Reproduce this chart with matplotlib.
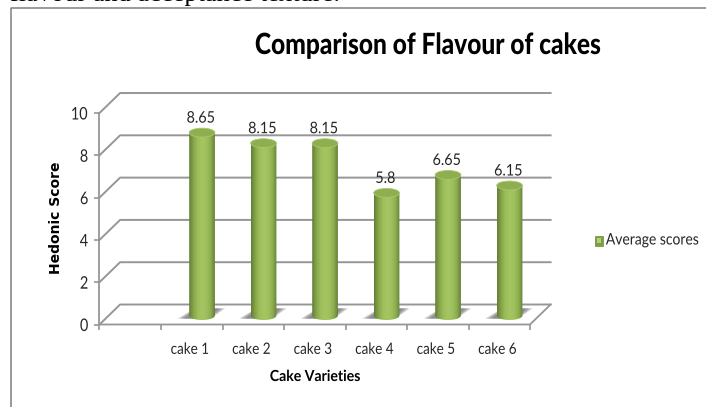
import numpy as np
import matplotlib
matplotlib.use('Agg')
import matplotlib.pyplot as plt
from matplotlib.colors import LinearSegmentedColormap
from matplotlib.patches import Ellipse, PathPatch, Polygon, Rectangle
from matplotlib.path import Path
from matplotlib.patheffects import AbstractPathEffect
from matplotlib.transforms import Affine2D

# data
cakes = ['cake 1', 'cake 2', 'cake 3', 'cake 4', 'cake 5', 'cake 6']
scores = [8.65, 8.15, 8.15, 5.8, 6.65, 6.15]
score_labels = ['8.65', '8.15', '8.15', '5.8', '6.65', '6.15']
y_ticks = [0, 2, 4, 6, 8, 10]

W, H = 706, 407
GREY = '#969696'
INK = '#262626'
DX, DY = 0.335, 0.945  # depth of the fake 3d box, in data units


class Squeeze(AbstractPathEffect):
    # narrow a text around its own centre, the reference font is condensed
    def __init__(self, sx):
        super().__init__()
        self.sx = sx

    def draw_path(self, renderer, gc, tpath, affine, rgbFace=None):
        box = tpath.get_extents()
        cx = (box.x0 + box.x1) / 2
        narrow = Affine2D().translate(-cx, 0).scale(self.sx, 1).translate(cx, 0)
        renderer.draw_path(gc, tpath, narrow + affine, rgbFace)


plt.rcParams['font.family'] = ['Lato', 'DejaVu Sans']

fig = plt.figure(figsize=(W / 100, H / 100), dpi=100)
fig.patch.set_facecolor('white')

# page furniture, in pixels
page = fig.add_axes([0, 0, 1, 1])
page.set_xlim(0, W)
page.set_ylim(H, 0)
page.axis('off')
page.plot([10.5, 10.5, W], [H, 7.5, 7.5], color='#7f7f7f', lw=1.1)
page.text(10, 1.5, 'flavour and acceptance texture.', family='Liberation Serif',
          fontsize=19, color='black', va='baseline', ha='left')

# axes box is the front face of the chart
left, right, top, bottom = 99.5, 530, 113, 324.5
ax = fig.add_axes([left / W, 1 - bottom / H, (right - left) / W, (bottom - top) / H])
ax.patch.set_alpha(0)
for s in ax.spines.values():
    s.set_visible(False)

# grid on the back wall + floor edges
for v in y_ticks:
    ax.plot([0, DX, 7 + DX], [v, v + DY, v + DY], color=GREY, lw=1.4, clip_on=False, zorder=1)
ax.plot([0, 0], [0, 10], color=GREY, lw=1.3, clip_on=False, zorder=2)
ax.plot([0, 7, 7 + DX], [0, 0, DY], color=GREY, lw=1.3, clip_on=False, zorder=2)

green = LinearSegmentedColormap.from_list(
    'cyl', ['#627f36', '#86a64a', '#9dbe5b', '#a4c562', '#a0c05e', '#8fb050', '#64823a'])
grad = np.linspace(0, 1, 64).reshape(1, -1)

bar_w = 0.418
cap_h = 0.21
xs = np.arange(len(cakes)) + 1.5 + DX / 2
base = DY / 2 - 0.05

for x, val, lab in zip(xs, scores, score_labels):
    x0, x1 = x - bar_w / 2, x + bar_w / 2
    body_top = base + val
    # soft shadow on the floor
    for k in np.linspace(1, 0.7, 6):
        ax.add_patch(Polygon([[x - 0.4 * k, 0.28], [x + 0.14 * k, 0.28],
                              [x + 0.38 * k, 0.76], [x - 0.12 * k, 0.76]], closed=True,
                             fc='#6e6e6e', ec='none', alpha=0.22, zorder=2.5, clip_on=False))
    # cylinder body
    t = np.linspace(np.pi, 2 * np.pi, 30)
    lower = np.c_[x + bar_w / 2 * np.cos(t), base + cap_h * np.sin(t)]
    verts = np.vstack([lower, [[x1, body_top]], [[x0, body_top]], lower[:1]])
    clip = PathPatch(Path(verts, closed=False), fc='none', ec='none', transform=ax.transData)
    ax.add_patch(clip)
    im = ax.imshow(grad, cmap=green, aspect='auto', extent=[x0, x1, base - cap_h, body_top], zorder=3)
    im.set_clip_path(clip)
    # top of cylinder
    ax.add_patch(Ellipse((x, body_top), bar_w, 2 * cap_h, fc='#8fae4f', ec='#a9c86c', lw=0.6,
                         zorder=4, clip_on=False))
    ax.text(x - 0.02, body_top + 0.33, lab, ha='center', va='bottom', fontsize=11.5, color=INK,
            zorder=5, path_effects=[Squeeze(0.9)])

ax.set_xlim(0, 7)
ax.set_ylim(0, 10)
ax.set_yticks(y_ticks)
ax.set_xticks(range(8))
ax.set_xticklabels([])
ax.tick_params(axis='both', color=GREY, width=1.2, length=3.5)
ax.tick_params(axis='y', labelsize=12.5, labelcolor=INK, pad=4)
for lbl in ax.get_yticklabels():
    lbl.set_path_effects([Squeeze(0.83)])
    lbl.set_verticalalignment('center_baseline')
for i, c in enumerate(cakes):
    ax.text(i + 1.5 - 0.03, -1.2, c, ha='center', va='center', fontsize=11.3, color=INK,
            path_effects=[Squeeze(0.86)])

page.text(315, 377, 'Cake Varieties', ha='center', va='center', fontsize=11, weight='bold',
          color='black', path_effects=[Squeeze(0.92)])
page.text(56, 218, 'Hedonic Score', rotation=90, ha='center', va='center', fontsize=10,
          weight='bold', family='DejaVu Sans', color='black')
page.text(427.5, 46, 'Comparison of Flavour of cakes', ha='center', va='center', fontsize=21,
          weight='black', color='black', path_effects=[Squeeze(0.84)])

# legend
page.add_patch(Rectangle((595, 236), 8, 9.5, fc='#7f9c48', ec='#7a9a42', lw=0.6))
page.add_patch(Rectangle((597, 238), 4, 5, fc='#b4d070', ec='none'))
page.text(652.5, 240.5, 'Average scores', ha='center', va='center', fontsize=11.5, color=INK,
          path_effects=[Squeeze(0.87)])

fig.savefig('out.png', dpi=100)
